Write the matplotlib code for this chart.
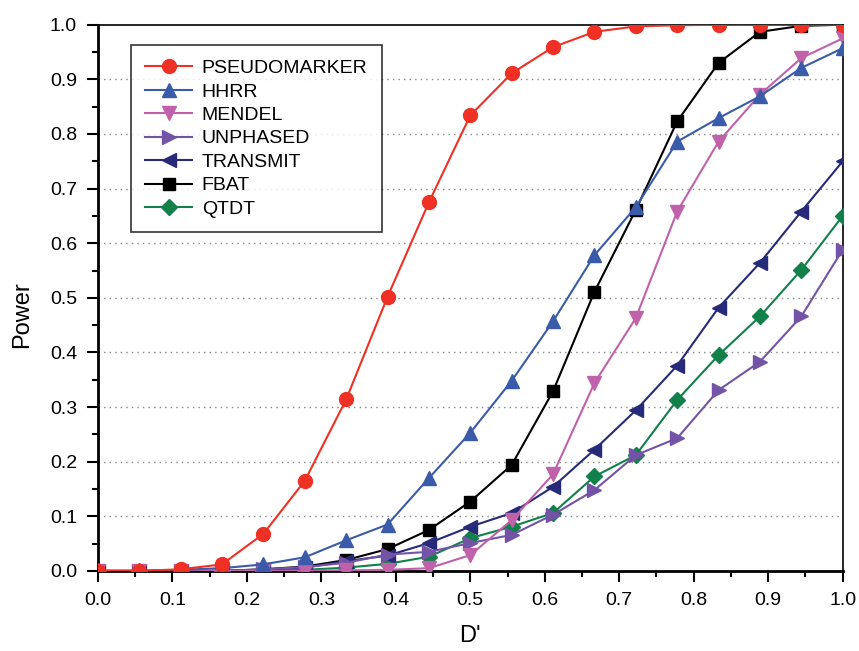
import matplotlib.pyplot as plt
import numpy as np
from matplotlib.ticker import MultipleLocator, FormatStrFormatter

plt.rcParams['font.family'] = ['Liberation Sans', 'DejaVu Sans']

d_prime = np.arange(19) / 18.0

pseudomarker = [0.0, 0.0, 0.003, 0.012, 0.068, 0.165, 0.314, 0.502, 0.675, 0.834,
                0.911, 0.959, 0.987, 0.997, 0.999, 1.0, 1.0, 1.0, 1.0]
hhrr = [0.0, 0.0, 0.002, 0.005, 0.012, 0.025, 0.056, 0.085, 0.170, 0.253,
        0.348, 0.457, 0.578, 0.666, 0.786, 0.829, 0.869, 0.921, 0.957]
mendel = [0.0, 0.0, 0.0, 0.0, 0.0, 0.0, 0.001, 0.002, 0.005, 0.029,
          0.093, 0.177, 0.344, 0.463, 0.658, 0.786, 0.872, 0.939, 0.975]
unphased = [0.0, 0.0, 0.0, 0.0, 0.003, 0.007, 0.015, 0.030, 0.035, 0.051,
            0.066, 0.103, 0.148, 0.212, 0.243, 0.331, 0.383, 0.466, 0.588]
transmit = [0.0, 0.0, 0.0, 0.0, 0.002, 0.006, 0.018, 0.028, 0.051, 0.081,
            0.106, 0.154, 0.222, 0.294, 0.376, 0.482, 0.564, 0.658, 0.750]
fbat = [0.0, 0.0, 0.0, 0.0, 0.003, 0.008, 0.020, 0.040, 0.075, 0.127,
        0.194, 0.329, 0.511, 0.661, 0.823, 0.930, 0.987, 0.998, 1.0]
qtdt = [0.0, 0.0, 0.0, 0.0, 0.0, 0.002, 0.006, 0.013, 0.026, 0.060,
        0.081, 0.106, 0.173, 0.212, 0.313, 0.395, 0.466, 0.551, 0.650]

series = [
    ('PSEUDOMARKER', pseudomarker, '#EE3124', 'o'),
    ('HHRR', hhrr, '#3A5BAA', '^'),
    ('MENDEL', mendel, '#C062A9', 'v'),
    ('UNPHASED', unphased, '#7353A6', '>'),
    ('TRANSMIT', transmit, '#262A78', '<'),
    ('FBAT', fbat, '#000000', 's'),
    ('QTDT', qtdt, '#12804A', 'D'),
]

fig = plt.figure(figsize=(8.59, 6.51), dpi=100)
ax = fig.add_axes([0.114, 0.123, 0.867, 0.839])

# draw in reverse so red ends up on top
for name, vals, col, mk in series[::-1]:
    ms = 8 if mk in ('D', 's') else 10
    ax.plot(d_prime, vals, color=col, marker=mk, markersize=ms, lw=1.5,
            label=name, zorder=3)

ax.set_xlim(0, 1)
ax.set_ylim(0, 1)
for a in (ax.xaxis, ax.yaxis):
    a.set_major_locator(MultipleLocator(0.1))
    a.set_minor_locator(MultipleLocator(0.05))
    a.set_major_formatter(FormatStrFormatter('%.1f'))
ax.tick_params(which='major', direction='out', length=8, width=1.5,
               labelsize=14, pad=7)
ax.tick_params(which='minor', direction='out', length=4.5, width=1.5)

for y in np.arange(0.1, 0.95, 0.1):
    ax.axhline(y, color='#888888', lw=1, ls=(0, (1, 3)), zorder=1)

ax.spines['left'].set_linewidth(2)
ax.spines['bottom'].set_linewidth(2)
ax.spines['top'].set_linewidth(1.2)
ax.spines['right'].set_linewidth(1.2)

ax.set_xlabel("D'", fontsize=17, labelpad=12)
ax.set_ylabel('Power', fontsize=17)
ax.yaxis.set_label_coords(-0.087, 0.47)

handles, labels = ax.get_legend_handles_labels()
leg = ax.legend(handles[::-1], labels[::-1], loc='upper left',
                bbox_to_anchor=(0.044, 0.963), borderaxespad=0,
                fontsize=14, handlelength=2.4, handletextpad=0.5,
                labelspacing=0.3, borderpad=0.75,
                fancybox=False, frameon=True, edgecolor='black')
leg.get_frame().set_linewidth(1.2)

plt.savefig('out.png', dpi=100)
